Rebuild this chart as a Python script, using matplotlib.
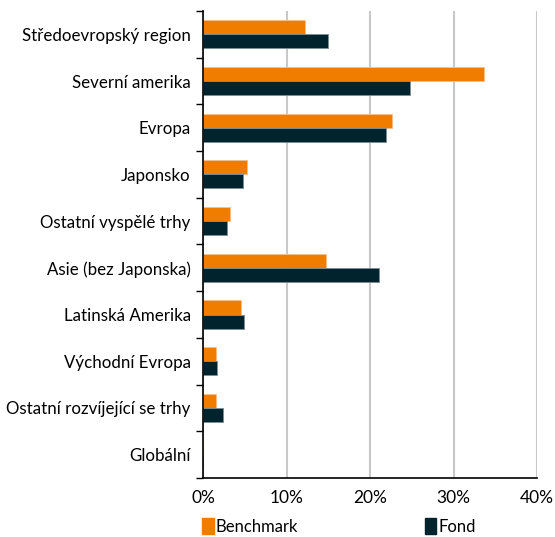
import numpy as np
import matplotlib.pyplot as plt
from matplotlib.patches import Patch

# Data
regiony = ['Středoevropský region', 'Severní amerika', 'Evropa', 'Japonsko',
           'Ostatní vyspělé trhy', 'Asie (bez Japonska)', 'Latinská Amerika',
           'Východní Evropa', 'Ostatní rozvíjející se trhy', 'Globální']
benchmark = [12.2, 33.7, 22.6, 5.2, 3.2, 14.7, 4.5, 1.6, 1.6, 0.0]
fond = [14.9, 24.8, 21.9, 4.8, 2.8, 21.1, 4.9, 1.7, 2.4, 0.0]
xticks = [0, 10, 20, 30, 40]

c_bench = '#F07D00'
c_fond = '#00232D'

plt.rcParams['font.family'] = ['Lato', 'DejaVu Sans']

fig = plt.figure(figsize=(5.55, 5.37), dpi=100)
ax = fig.add_axes([0.366, 0.11, 0.6016, 0.8695])

y = np.arange(len(regiony))
h = 0.3
ax.barh(y - h / 2, benchmark, height=h, color=c_bench, edgecolor='#f7c089', linewidth=0.6)
ax.barh(y + h / 2, fond, height=h, color=c_fond, edgecolor='#7a8f94', linewidth=0.6)

ax.set_xlim(0, 40)
ax.set_ylim(len(regiony) - 0.5, -0.5)
ax.set_xticks(xticks)
ax.set_xticklabels([f'{v}%' for v in xticks], fontsize=12.5)
ax.set_yticks(y)
ax.set_yticklabels(regiony, fontsize=12.2)
ax.tick_params(axis='y', length=0, pad=9)
ax.tick_params(axis='x', length=0, pad=9)
ax.set_yticks(np.arange(len(regiony) + 1) - 0.5, minor=True)
ax.tick_params(axis='y', which='minor', length=5, width=1, color='black')

ax.grid(axis='x', color='#c8c8c8', linewidth=1.5)
ax.set_axisbelow(True)
for s in ['top', 'right']:
    ax.spines[s].set_visible(False)
ax.spines['left'].set_linewidth(1.2)
ax.spines['bottom'].set_linewidth(1.2)

handles = [Patch(color=c_bench, label='Benchmark'), Patch(color=c_fond, label='Fond')]
fig.legend(handles=handles, loc='lower left', bbox_to_anchor=(0.337, -0.024), ncol=2,
           frameon=False, fontsize=12, handlelength=0.7, handleheight=1.1,
           handletextpad=0.12, columnspacing=7.6)

fig.savefig('out.png', dpi=100)
